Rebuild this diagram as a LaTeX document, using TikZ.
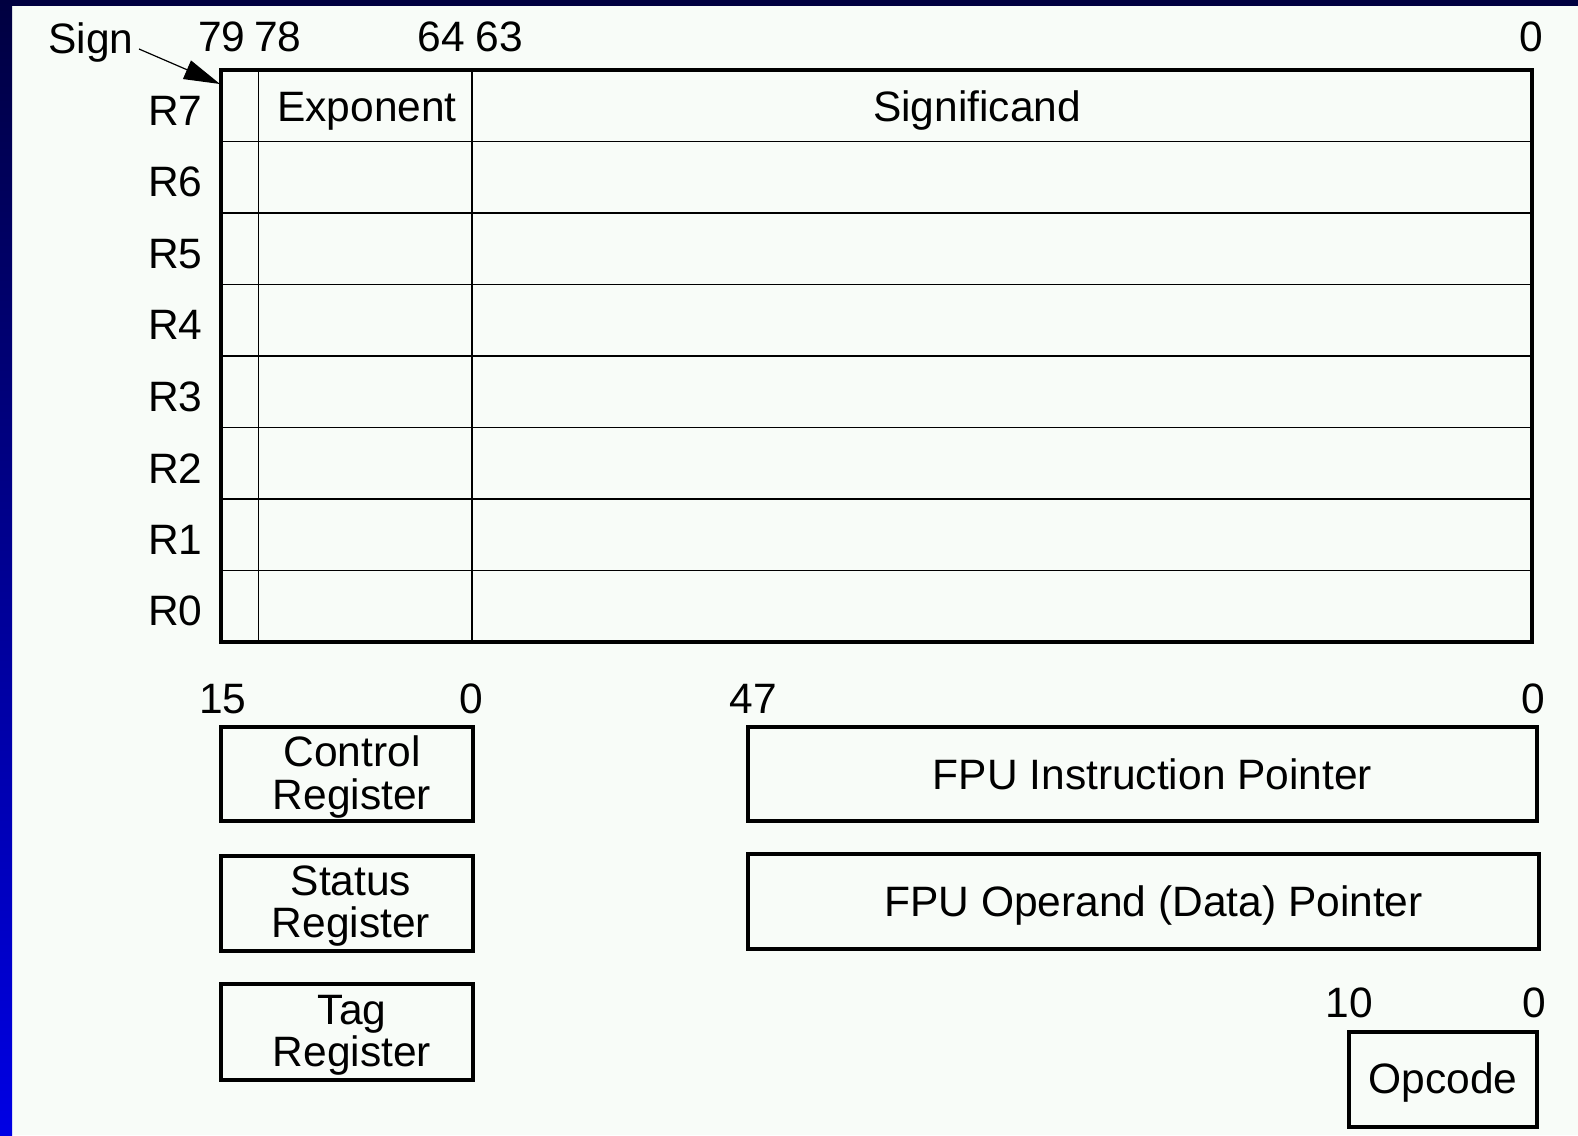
\documentclass[tikz,border=0pt]{standalone}
\usepackage{fontspec}
\setmainfont{Liberation Sans}
\usetikzlibrary{arrows.meta}
\definecolor{bgwhite}{HTML}{F8FCF8}
\definecolor{navy}{HTML}{000040}
\definecolor{brightblue}{HTML}{0000E4}
\begin{document}
\begin{tikzpicture}[x=0.5pt,y=-0.5pt,
  every node/.style={font=\fontsize{21.25}{21}\selectfont, inner sep=0pt},
  rowlbl/.style={anchor=east},
  boxtxt/.style={align=center},
  regbox/.style={draw, line width=1.6pt, minimum width=126pt},
  wide/.style={draw, line width=1.6pt},
  thinline/.style={line width=0.8pt},
  thickline/.style={line width=1.8pt},
  signarrow/.style={line width=0.6pt, arrows={-Triangle[length=18pt,width=10pt]}}]
% background and frame
\fill[bgwhite] (0,0) rectangle (1578,1135);
\useasboundingbox (0,0) rectangle (1578,1135);
\fill[navy] (0,0) rectangle (1578,6);
\shade[top color=navy, bottom color=brightblue] (0,0) rectangle (12,1135);

% register stack
\coordinate (tl) at (221,70);
\coordinate (br) at (1532,642);
\foreach \k in {1,...,7} {
  \draw[thinline] (221,{70+71.5*\k}) -- (1532,{70+71.5*\k});
}
\draw[thinline] (258.6,70) -- (258.6,642);
\draw[thinline] (472,70) -- (472,642);
\draw[thickline] (tl) rectangle (br);

\foreach \n [count=\i from 0] in {7,6,5,4,3,2,1,0} {
  \node[rowlbl] (r\n) at (203,{70+71.5*\i+35.75+5}) {R\n};
}
\node (exp) at (367,111) {Exponent};
\node (sig) at (977,111) {Significand};

% top bit labels
\node (sign) at (91,43) {Sign};
\node (b79) at (222,37) {79};
\node (b78) at (278,37) {78};
\node (b64) at (441,37) {64};
\node (b63) at (499,37) {63};
\node (b0) at (1531,37) {0};
\coordinate (signtip) at (220,84);
\coordinate (signstart) at (139,49);
\draw[signarrow] (signstart) -- (signtip);

% lower labels
\node (c15) at (223,699) {15};
\node (c0) at (471,699) {0};
\node (p47) at (753,699) {47};
\node (p0) at (1533,699) {0};
\node (o10) at (1349,1003) {10};
\node (o0) at (1534,1003) {0};

% lower boxes
\node[regbox, minimum height=47pt] (ctrl) at (347,774) {};
\node[regbox, minimum height=47.5pt] (stat) at (347,903.5) {};
\node[regbox, minimum height=48pt] (tag) at (347,1032) {};
\node[wide, minimum width=394.5pt, minimum height=47pt] (fip) at (1142.5,774) {};
\node[wide, minimum width=395.5pt, minimum height=47.5pt] (fdp) at (1143.5,901.5) {};
\node[wide, minimum width=94pt, minimum height=47.5pt] (opc) at (1443,1079.5) {};

\node[boxtxt] (ctrlt) at ([shift={(5,3)}]ctrl.center) {Control\\Register};
\node[boxtxt] (statt) at ([shift={(4,3)}]stat.center) {Status\\Register};
\node[boxtxt] (tagt) at ([shift={(5,3)}]tag.center) {Tag\\Register};
\node (fipt) at ([shift={(10,0)}]fip.center) {FPU Instruction Pointer};
\node (fdpt) at ([shift={(10,4)}]fdp.center) {FPU Operand (Data) Pointer};
\node (opct) at ([shift={(0,3)}]opc.center) {Opcode};
\end{tikzpicture}
\end{document}
